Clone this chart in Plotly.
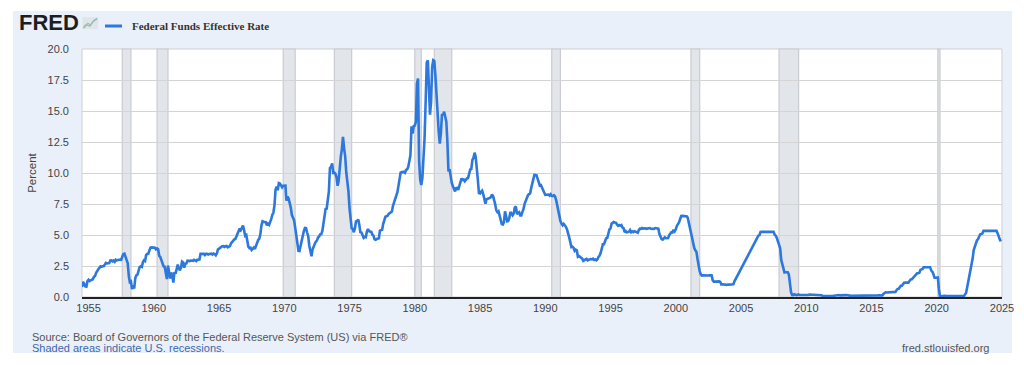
import pandas as pd
import plotly.graph_objects as go

# Monthly Federal Funds Effective Rate (percent), starting July 1954
ff_1954_1959 = [
    0.80, 1.22, 1.07, 0.85, 0.83, 1.28,
    1.39, 1.29, 1.35, 1.43, 1.43, 1.64, 1.68, 1.96, 2.18, 2.24, 2.35, 2.48,
    2.45, 2.50, 2.50, 2.62, 2.75, 2.71, 2.75, 2.73, 2.95, 2.96, 2.88, 2.94,
    2.84, 3.00, 2.96, 3.00, 3.00, 3.00, 2.99, 3.24, 3.47, 3.50, 3.28, 2.98,
    2.72, 1.67, 1.20, 1.26, 0.63, 0.93, 0.68, 1.53, 1.76, 1.80, 2.27, 2.42,
    2.48, 2.43, 2.80, 2.96, 2.90, 3.39, 3.47, 3.50, 3.76, 3.98, 4.00, 3.99,
]
ff_1960s = [
    3.99, 3.97, 3.84, 3.92, 3.85, 3.32, 3.23, 2.98, 2.60, 2.47, 2.44, 1.98,
    1.45, 2.54, 2.02, 1.49, 1.98, 1.73, 1.17, 2.00, 1.88, 2.26, 2.61, 2.33,
    2.15, 2.37, 2.85, 2.78, 2.36, 2.68, 2.71, 2.93, 2.90, 2.90, 2.94, 2.93,
    2.92, 3.00, 2.98, 2.90, 3.00, 2.99, 3.02, 3.49, 3.48, 3.50, 3.48, 3.38,
    3.48, 3.48, 3.43, 3.47, 3.50, 3.50, 3.42, 3.50, 3.45, 3.36, 3.52, 3.85,
    3.90, 3.98, 4.04, 4.09, 4.10, 4.04, 4.09, 4.12, 4.01, 4.08, 4.10, 4.32,
    4.42, 4.60, 4.65, 4.67, 4.90, 5.17, 5.30, 5.53, 5.40, 5.53, 5.76, 5.40,
    4.94, 5.00, 4.53, 4.05, 3.94, 3.98, 3.79, 3.90, 3.99, 3.88, 4.13, 4.51,
    4.60, 4.71, 5.05, 5.76, 6.11, 6.07, 6.02, 6.03, 5.78, 5.91, 5.82, 6.02,
    6.30, 6.64, 6.79, 7.41, 8.67, 8.90, 8.61, 9.19, 9.15, 9.00, 8.85, 8.97,
]
ff_1970s = [
    8.98, 8.98, 7.76, 8.10, 7.95, 7.61, 7.21, 6.61, 6.29, 6.20, 5.60, 4.90,
    4.14, 3.72, 3.71, 4.16, 4.63, 4.91, 5.31, 5.57, 5.55, 5.20, 4.91, 4.14,
    3.50, 3.29, 3.83, 4.17, 4.27, 4.46, 4.55, 4.80, 4.87, 5.04, 5.06, 5.33,
    5.94, 6.58, 7.09, 7.12, 7.84, 8.49, 10.40, 10.50, 10.78, 10.01, 10.03, 9.95,
    9.65, 8.97, 9.35, 10.51, 11.31, 11.93, 12.92, 12.01, 11.34, 10.06, 9.45, 8.53,
    7.13, 6.24, 5.54, 5.49, 5.22, 5.55, 6.10, 6.14, 6.24, 5.82, 5.22, 5.20,
    4.87, 4.77, 4.84, 4.82, 5.29, 5.48, 5.31, 5.29, 5.25, 5.03, 4.95, 4.65,
    4.61, 4.68, 4.69, 4.73, 5.35, 5.39, 5.42, 5.90, 6.14, 6.47, 6.51, 6.56,
    6.70, 6.78, 6.79, 6.89, 7.36, 7.60, 7.81, 8.04, 8.45, 8.96, 9.76, 10.03,
    10.07, 10.06, 10.09, 10.01, 10.24, 10.29, 10.47, 10.94, 11.43, 13.77, 13.18, 13.78,
]
ff_1980s = [
    13.82, 14.13, 17.19, 17.61, 10.98, 9.47, 9.03, 9.61, 10.87, 12.81, 15.85, 18.90,
    19.08, 15.93, 14.70, 15.72, 18.52, 19.10, 19.04, 17.82, 15.87, 15.08, 13.31, 12.37,
    13.22, 14.78, 14.68, 14.94, 14.45, 14.15, 12.59, 10.12, 10.31, 9.71, 9.20, 8.95,
    8.68, 8.51, 8.77, 8.80, 8.63, 8.98, 9.37, 9.56, 9.45, 9.48, 9.34, 9.47,
    9.56, 9.59, 9.91, 10.29, 10.32, 11.06, 11.23, 11.64, 11.30, 9.99, 9.43, 8.38,
    8.35, 8.50, 8.58, 8.27, 7.97, 7.53, 7.88, 7.90, 7.92, 7.99, 8.05, 8.27,
    8.14, 7.86, 7.48, 6.99, 6.85, 6.92, 6.56, 6.17, 5.89, 5.85, 6.04, 6.91,
    6.43, 6.10, 6.13, 6.37, 6.85, 6.73, 6.58, 6.73, 7.22, 7.29, 6.69, 6.77,
    6.83, 6.58, 6.58, 6.87, 7.09, 7.51, 7.75, 8.01, 8.19, 8.30, 8.35, 8.76,
    9.12, 9.36, 9.85, 9.84, 9.81, 9.53, 9.24, 8.99, 9.02, 8.84, 8.55, 8.45,
]
ff_1990s = [
    8.23, 8.24, 8.28, 8.26, 8.18, 8.29, 8.15, 8.13, 8.20, 8.11, 7.81, 7.31,
    6.91, 6.25, 6.12, 5.91, 5.78, 5.90, 5.82, 5.66, 5.45, 5.21, 4.81, 4.43,
    4.03, 4.06, 3.98, 3.73, 3.82, 3.76, 3.25, 3.30, 3.22, 3.10, 3.09, 2.92,
    3.02, 3.03, 3.07, 2.96, 3.00, 3.04, 3.06, 3.03, 3.09, 2.99, 3.02, 2.96,
    3.05, 3.25, 3.34, 3.56, 4.01, 4.25, 4.26, 4.47, 4.73, 4.76, 5.29, 5.45,
    5.53, 5.92, 5.98, 6.05, 6.01, 6.00, 5.85, 5.74, 5.80, 5.76, 5.80, 5.60,
    5.56, 5.22, 5.31, 5.22, 5.24, 5.27, 5.40, 5.22, 5.30, 5.24, 5.31, 5.29,
    5.25, 5.19, 5.39, 5.51, 5.50, 5.56, 5.52, 5.54, 5.54, 5.50, 5.52, 5.50,
    5.56, 5.51, 5.49, 5.45, 5.49, 5.56, 5.54, 5.55, 5.51, 5.07, 4.83, 4.68,
    4.63, 4.76, 4.81, 4.74, 4.74, 4.76, 4.99, 5.07, 5.22, 5.20, 5.42, 5.30,
]
ff_2000s = [
    5.45, 5.73, 5.85, 6.02, 6.27, 6.53, 6.54, 6.50, 6.52, 6.51, 6.51, 6.40,
    5.98, 5.49, 5.31, 4.80, 4.21, 3.97, 3.77, 3.65, 3.07, 2.49, 2.09, 1.82,
    1.73, 1.74, 1.73, 1.75, 1.75, 1.75, 1.73, 1.74, 1.75, 1.75, 1.34, 1.24,
    1.24, 1.26, 1.25, 1.26, 1.26, 1.22, 1.01, 1.03, 1.01, 1.01, 1.00, 0.98,
    1.00, 1.01, 1.00, 1.00, 1.00, 1.03, 1.26, 1.43, 1.61, 1.76, 1.93, 2.16,
    2.28, 2.50, 2.63, 2.79, 3.00, 3.04, 3.26, 3.50, 3.62, 3.78, 4.00, 4.16,
    4.29, 4.49, 4.59, 4.79, 4.94, 4.99, 5.24, 5.25, 5.25, 5.25, 5.25, 5.24,
    5.25, 5.26, 5.26, 5.25, 5.25, 5.25, 5.26, 5.02, 4.94, 4.76, 4.49, 4.24,
    3.94, 2.98, 2.61, 2.28, 1.98, 2.00, 2.01, 2.00, 1.81, 0.97, 0.39, 0.16,
    0.15, 0.22, 0.18, 0.15, 0.18, 0.21, 0.16, 0.16, 0.15, 0.12, 0.12, 0.12,
]
ff_2010s = [
    0.11, 0.13, 0.16, 0.20, 0.20, 0.18, 0.18, 0.19, 0.19, 0.19, 0.19, 0.18,
    0.17, 0.16, 0.14, 0.10, 0.09, 0.09, 0.07, 0.10, 0.08, 0.07, 0.08, 0.07,
    0.08, 0.10, 0.13, 0.14, 0.16, 0.16, 0.16, 0.13, 0.14, 0.16, 0.16, 0.16,
    0.14, 0.15, 0.14, 0.15, 0.11, 0.09, 0.09, 0.08, 0.08, 0.09, 0.08, 0.09,
    0.07, 0.07, 0.08, 0.09, 0.09, 0.10, 0.09, 0.09, 0.09, 0.09, 0.09, 0.12,
    0.11, 0.11, 0.11, 0.12, 0.12, 0.13, 0.13, 0.14, 0.14, 0.12, 0.12, 0.24,
    0.34, 0.38, 0.36, 0.37, 0.37, 0.38, 0.39, 0.40, 0.40, 0.40, 0.41, 0.54,
    0.65, 0.66, 0.79, 0.90, 0.91, 1.04, 1.15, 1.16, 1.15, 1.15, 1.16, 1.30,
    1.41, 1.42, 1.51, 1.69, 1.70, 1.82, 1.91, 1.91, 1.95, 2.19, 2.20, 2.27,
    2.40, 2.40, 2.41, 2.42, 2.39, 2.38, 2.40, 2.13, 2.04, 1.83, 1.55, 1.55,
]
ff_2020s = [
    1.55, 1.58, 0.65, 0.05, 0.05, 0.08, 0.09, 0.10, 0.09, 0.09, 0.09, 0.09,
    0.09, 0.08, 0.07, 0.07, 0.06, 0.08, 0.10, 0.09, 0.08, 0.08, 0.08, 0.08,
    0.08, 0.08, 0.20, 0.33, 0.77, 1.21, 1.68, 2.33, 2.56, 3.08, 3.78, 4.10,
    4.33, 4.57, 4.65, 4.83, 5.06, 5.08, 5.12, 5.33, 5.33, 5.33, 5.33, 5.33,
    5.33, 5.33, 5.33, 5.33, 5.33, 5.33, 5.33, 5.33, 5.13, 4.83, 4.64, 4.48,
]
series_start = "1954-07-01"

# NBER recessions (shaded)
rec_start = ["1957-08-01", "1960-04-01", "1969-12-01", "1973-11-01", "1980-01-01",
             "1981-07-01", "1990-07-01", "2001-03-01", "2007-12-01", "2020-02-01"]
rec_end = ["1958-04-01", "1961-02-01", "1970-11-01", "1975-03-01", "1980-07-01",
           "1982-11-01", "1991-03-01", "2001-11-01", "2009-06-01", "2020-04-01"]

x_ticks = [str(y) for y in range(1955, 2030, 5)]
y_ticks = [0, 2.5, 5, 7.5, 10, 12.5, 15, 17.5, 20]
y_tick_labels = ["0.0", "2.5", "5.0", "7.5", "10.0", "12.5", "15.0", "17.5", "20.0"]

values = ff_1954_1959 + ff_1960s + ff_1970s + ff_1980s + ff_1990s + ff_2000s + ff_2010s + ff_2020s
dates = pd.date_range(series_start, periods=len(values), freq="MS")

LINE = "#2d78dd"
BG = "#eaf0f9"

fig = go.Figure()
fig.add_trace(go.Scatter(
    x=dates, y=values, mode="lines",
    line=dict(color=LINE, width=2.6),
    name="Federal Funds Effective Rate", showlegend=False,
    hoverinfo="x+y",
))

shapes = []
# outer light-blue panel
shapes.append(dict(type="rect", xref="paper", yref="paper",
                   x0=-0.075, x1=1.0109, y0=-0.2258, y1=1.153,
                   fillcolor=BG, line=dict(width=0), layer="below"))
# white plot area
shapes.append(dict(type="rect", xref="paper", yref="paper",
                   x0=0, x1=1, y0=0, y1=1,
                   fillcolor="white", line=dict(color="#cfcfcf", width=1), layer="below"))
for s, e in zip(rec_start, rec_end):
    shapes.append(dict(type="rect", xref="x", yref="paper", x0=s, x1=e, y0=0, y1=1,
                       fillcolor="#e2e5ea", line=dict(color="#c9ccd1", width=1.2),
                       layer="below"))
# legend swatch
shapes.append(dict(type="line", xref="paper", yref="paper",
                   x0=0.0250, x1=0.0435, y0=1.0927, y1=1.0927,
                   line=dict(color=LINE, width=3)))
# small FRED chart icon
shapes.append(dict(type="rect", xref="paper", yref="paper",
                   x0=0.0005, x1=0.0175, y0=1.080, y1=1.128,
                   fillcolor="#dfe5e8", line=dict(width=0)))
shapes.append(dict(type="path", xref="paper", yref="paper",
                   path="M 0.0015,1.084 L 0.0055,1.098 L 0.0085,1.092 L 0.0120,1.110 L 0.0165,1.122",
                   line=dict(color="#9cc48a", width=1.3)))
shapes.append(dict(type="path", xref="paper", yref="paper",
                   path="M 0.0015,1.090 L 0.0060,1.104 L 0.0095,1.098 L 0.0130,1.116 L 0.0165,1.124",
                   line=dict(color="#8fb0d6", width=1)))

annotations = [
    dict(text="<b>FRED</b>", xref="paper", yref="paper", x=-0.0705, y=1.108,
         xanchor="left", yanchor="middle", showarrow=False,
         font=dict(family="Liberation Sans, Arial", size=22, color="#1e1e1e")),
    dict(text="<b>Federal Funds Effective Rate</b>", xref="paper", yref="paper",
         x=0.0525, y=1.0927, xanchor="left", yanchor="middle", showarrow=False,
         font=dict(family="Liberation Serif, Times New Roman", size=11, color="#333333")),
    dict(text="Percent", xref="paper", yref="paper", x=-0.0545, y=0.5,
         xanchor="center", yanchor="middle", textangle=-90, showarrow=False,
         font=dict(family="Liberation Sans, Arial", size=11.5, color="#444444")),
    dict(text="Source: Board of Governors of the Federal Reserve System (US) via FRED®",
         xref="paper", yref="paper", x=-0.0565, y=-0.1612, xanchor="left", yanchor="middle",
         showarrow=False, font=dict(family="Liberation Sans, Arial", size=11, color="#555555")),
    dict(text="Shaded areas indicate U.S. recessions.",
         xref="paper", yref="paper", x=-0.0565, y=-0.2056, xanchor="left", yanchor="middle",
         showarrow=False, font=dict(family="Liberation Sans, Arial", size=11, color="#3d68aa")),
    dict(text="fred.stlouisfed.org",
         xref="paper", yref="paper", x=0.9875, y=-0.2056, xanchor="right", yanchor="middle",
         showarrow=False, font=dict(family="Liberation Sans, Arial", size=11, color="#555555")),
]

# The page body adds an 8px offset, so the figure is 8px smaller and margins shifted.
fig.update_layout(
    width=1016, height=357,
    margin=dict(l=74, r=22, t=41, b=68, autoexpand=False),
    paper_bgcolor="white", plot_bgcolor="rgba(0,0,0,0)",
    shapes=shapes, annotations=annotations,
    showlegend=False,
    xaxis=dict(
        type="date", range=["1954-07-01", "2025-01-01"],
        tickvals=[f"{y}-01-01" for y in x_ticks], ticktext=x_ticks,
        showgrid=False, zeroline=False,
        showline=True, linecolor="#222222", linewidth=2,
        ticks="",
        tickfont=dict(family="Liberation Sans, Arial", size=11, color="#444444"),
    ),
    yaxis=dict(
        range=[0, 20], tickvals=y_ticks, ticktext=y_tick_labels,
        showgrid=True, gridcolor="#d4d4d4", gridwidth=1.2,
        zeroline=False, showline=False,
        ticks="", ticklabelstandoff=12,
        tickfont=dict(family="Liberation Sans, Arial", size=11, color="#444444"),
    ),
)

fig.write_html("out.html")
